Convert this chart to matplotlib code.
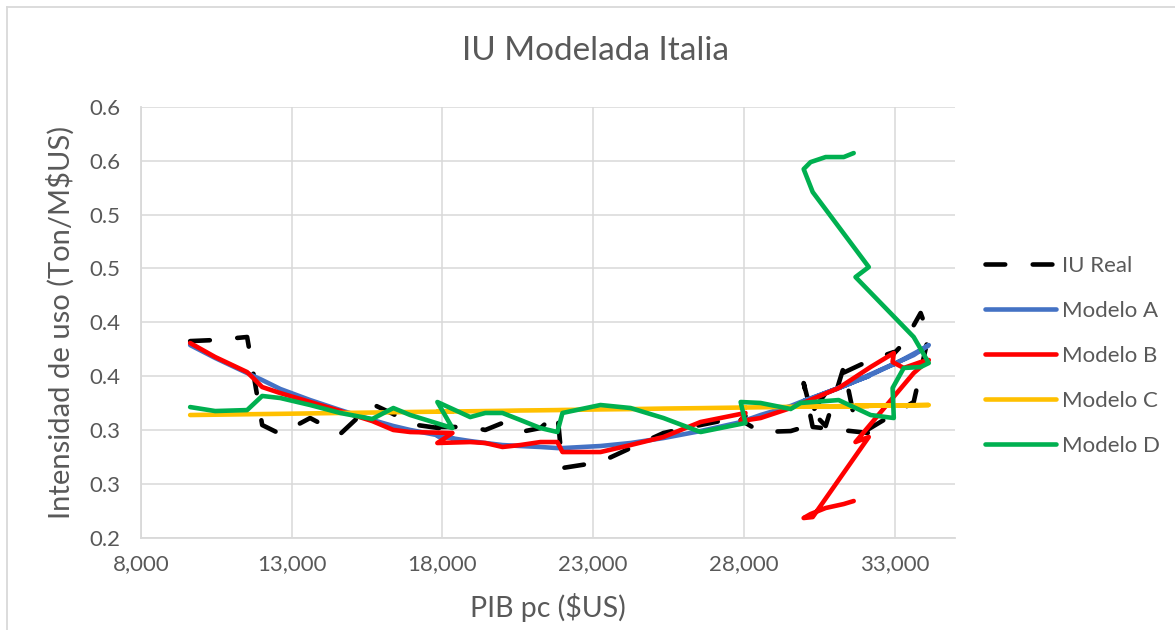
import matplotlib
matplotlib.use("Agg")
import matplotlib.pyplot as plt
from matplotlib.lines import Line2D

# PIB per capita ($US), in time order (the series go back on themselves near the end)
pib = [9630, 10460, 11520, 12020, 12620, 13610, 14610, 15670, 16370, 16930,
       18330, 17830, 18920, 19420, 19990, 20580, 21250, 21810, 21980, 23240,
       24240, 25330, 26560, 28050, 27890, 28550, 29550, 29880, 31140, 32200,
       32970, 32930, 33300, 33860, 34130, 33630, 31700, 32140, 30280, 29980,
       30210, 30710, 31310, 31640]

iu_real = [0.3825, 0.3835, 0.3863, 0.3045, 0.2962, 0.3110, 0.2962, 0.3240, 0.3147, 0.3054,
           0.2999, 0.3027, 0.3027, 0.2999, 0.3064, 0.2980, 0.3017, 0.3157, 0.2646, 0.2701,
           0.2831, 0.2971, 0.3045, 0.3129, 0.3092, 0.2980, 0.2989, 0.3017, 0.3510, 0.3649,
           0.3723, 0.3695, 0.3807, 0.4086, 0.3881, 0.3259, 0.2934, 0.2971, 0.3027, 0.3435,
           0.3184, 0.3036, 0.3584, 0.3138]

modelo_a = [0.3788, 0.3668, 0.3528, 0.3463, 0.3380, 0.3277, 0.3184, 0.3092, 0.3036, 0.2999,
            0.2924, 0.2943, 0.2896, 0.2878, 0.2859, 0.2850, 0.2841, 0.2831, 0.2831, 0.2850,
            0.2878, 0.2924, 0.2989, 0.3082, 0.3073, 0.3138, 0.3222, 0.3259, 0.3389, 0.3510,
            0.3612, 0.3603, 0.3658, 0.3742, 0.3788, 0.3695, 0.3454, 0.3500, 0.3296, 0.3268,
            0.3286, 0.3342, 0.3407, 0.3445]

modelo_b = [0.3807, 0.3677, 0.3537, 0.3398, 0.3342, 0.3259, 0.3175, 0.3082, 0.2999, 0.2980,
            0.2971, 0.2878, 0.2887, 0.2878, 0.2841, 0.2859, 0.2887, 0.2887, 0.2794, 0.2794,
            0.2859, 0.2934, 0.3073, 0.3157, 0.3082, 0.3110, 0.3203, 0.3240, 0.3389, 0.3584,
            0.3714, 0.3630, 0.3575, 0.3630, 0.3649, 0.3528, 0.2887, 0.2934, 0.2190, 0.2181,
            0.2218, 0.2274, 0.2311, 0.2339]

modelo_c = [0.3138, 0.3141, 0.3145, 0.3147, 0.3149, 0.3153, 0.3157, 0.3161, 0.3164, 0.3166,
            0.3171, 0.3169, 0.3173, 0.3175, 0.3177, 0.3180, 0.3182, 0.3184, 0.3185, 0.3190,
            0.3193, 0.3198, 0.3202, 0.3208, 0.3207, 0.3210, 0.3214, 0.3215, 0.3220, 0.3224,
            0.3227, 0.3227, 0.3228, 0.3230, 0.3231, 0.3229, 0.3222, 0.3223, 0.3216, 0.3215,
            0.3216, 0.3218, 0.3220, 0.3221]

modelo_d = [0.3212, 0.3175, 0.3184, 0.3315, 0.3296, 0.3231, 0.3157, 0.3101, 0.3203, 0.3138,
            0.3017, 0.3259, 0.3119, 0.3157, 0.3157, 0.3092, 0.3017, 0.2980, 0.3157, 0.3231,
            0.3203, 0.3110, 0.2980, 0.3064, 0.3259, 0.3250, 0.3194, 0.3250, 0.3277, 0.3138,
            0.3110, 0.3389, 0.3575, 0.3584, 0.3621, 0.3863, 0.4420, 0.4513, 0.5210, 0.5423,
            0.5488, 0.5535, 0.5535, 0.5572]

x_ticks = [8000, 13000, 18000, 23000, 28000, 33000]
y_ticks = [0.20, 0.25, 0.30, 0.35, 0.40, 0.45, 0.50, 0.55, 0.60]
y_labels = ["0.2", "0.3", "0.3", "0.4", "0.4", "0.5", "0.5", "0.6", "0.6"]

plt.rcParams['font.family'] = ['Lato', 'DejaVu Sans']
txt = '#595959'
grid = '#D9D9D9'

W, H = 1175, 630
fig = plt.figure(figsize=(W / 100, H / 100), dpi=100)
ax = fig.add_axes([141 / W, 1 - 537.5 / H, (955 - 141) / W, (537.5 - 107) / H])

lw = 3.3
ax.plot(pib, iu_real, color='black', lw=lw, dashes=(4.3, 6.0),
        dash_capstyle='round', dash_joinstyle='round', label='IU Real')
series = [(modelo_a, '#4472C4', 'Modelo A'),
          (modelo_b, '#FF0000', 'Modelo B'),
          (modelo_c, '#FFC000', 'Modelo C'),
          (modelo_d, '#00B050', 'Modelo D')]
for vals, col, name in series:
    ax.plot(pib, vals, color=col, lw=lw, solid_capstyle='round',
            solid_joinstyle='round', label=name)

ax.set_xlim(8000, 35000)
ax.set_ylim(0.2, 0.6)
ax.set_xticks(x_ticks)
ax.set_xticklabels([f"{v:,}" for v in x_ticks])
ax.set_yticks(y_ticks)
ax.set_yticklabels(y_labels)
ax.tick_params(length=0, labelsize=16, labelcolor=txt)
ax.tick_params(axis='x', pad=12)
ax.tick_params(axis='y', pad=15)
ax.grid(True, color=grid, lw=1.1)
ax.set_axisbelow(True)
for s in ['top', 'right']:
    ax.spines[s].set_visible(False)
for s in ['left', 'bottom']:
    ax.spines[s].set_color(grid)
    ax.spines[s].set_linewidth(1.3)

fig.text(596 / W, 1 - 51 / H, 'IU Modelada Italia', ha='center', va='center',
         fontsize=24, color=txt)
fig.text(548 / W, 1 - 608 / H, 'PIB pc ($US)', ha='center', va='center',
         fontsize=20.5, color=txt)
fig.text(61 / W, 1 - 322 / H, 'Intensidad de uso (Ton/M$US)', ha='center', va='center',
         rotation=90, fontsize=21, color=txt)

handles, labels = ax.get_legend_handles_labels()
fig.legend(handles, labels, loc='upper left', bbox_to_anchor=(985 / W, 1 - 256 / H),
           frameon=False, fontsize=16, labelcolor=txt, handlelength=3.2,
           handletextpad=0.28, labelspacing=1.12, borderpad=0, borderaxespad=0)

# chart area border (left and top edges visible)
fig.add_artist(Line2D([7 / W, 7 / W], [0, 1 - 7 / H], color=grid, lw=1.3))
fig.add_artist(Line2D([7 / W, 1], [1 - 7 / H, 1 - 7 / H], color=grid, lw=1.3))

fig.savefig('out.png', dpi=100)
